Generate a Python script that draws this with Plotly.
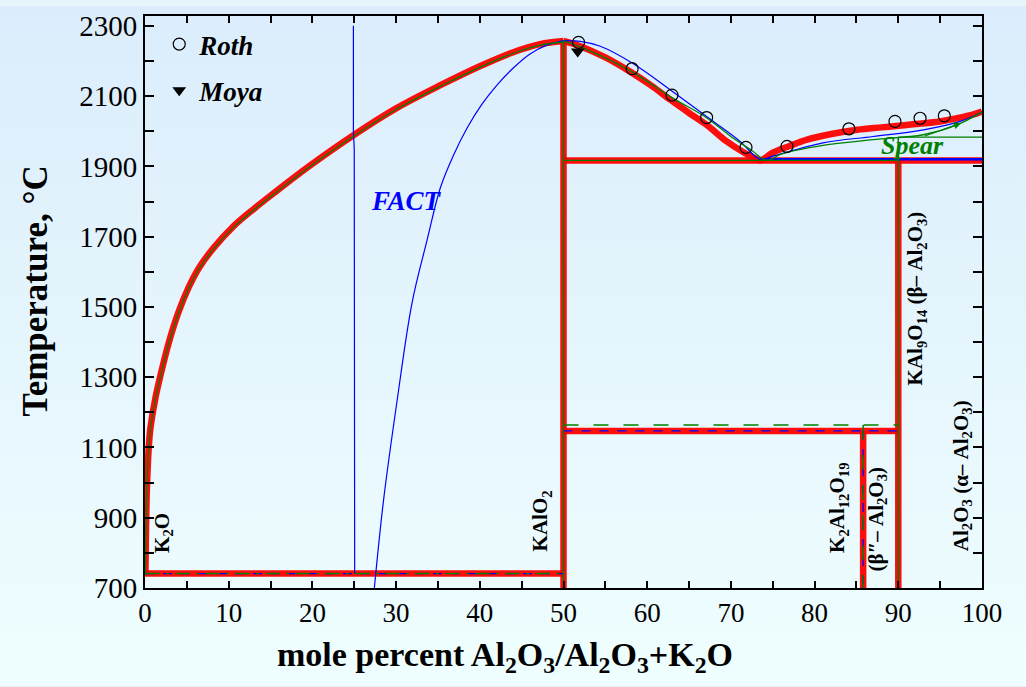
import base64
import plotly.graph_objects as go

# ---- phase-diagram data: x = mole % Al2O3, T = temperature (°C) ----
# liquidus, K2O side up to KAlO2 (assessed, red)
liq_left_x = [0.05, 0.25, 0.6, 1.2, 1.8, 2.8, 4.0, 5.2, 6.5, 8.2, 10.5, 13, 15.5, 19.7, 25, 30, 35.3, 40, 44, 47.2, 50]
liq_left_T = [741, 1000, 1145, 1235, 1300, 1395, 1485, 1555, 1613, 1668, 1728, 1779, 1826, 1902, 1990, 2065, 2131, 2185, 2225, 2248, 2257]

# liquidus, KAlO2 to Al2O3 (assessed, red)
liq_right_x = [50, 52, 55, 58, 60.5, 62.8, 65, 67.1, 69.5, 71.5, 72.7, 73.5, 75, 77, 79.1, 82, 85.1, 88, 91, 95, 97, 99, 100]
liq_right_T = [2257, 2242, 2210, 2169, 2130, 2089, 2052, 2018, 1971, 1940, 1925, 1917, 1939, 1958, 1976, 1992, 2004, 2011, 2018, 2028, 2037, 2048, 2056]

# FACT liquidus (blue)
fact_right_x = [50, 52, 54.4, 58.3, 63.1, 67.9, 71.1, 73.5, 75, 81, 87, 93, 97.4, 100]
fact_right_T = [2258, 2256, 2242, 2193, 2112, 2028, 1971, 1920, 1929, 1967, 1985, 2004, 2028, 2055]
fact_left_x = [27.4, 28.5, 30.1, 31.9, 33.7, 35.3, 36.9, 38.5, 40.2, 42, 44, 46, 48, 50]
fact_left_T = [700, 950, 1230, 1511, 1690, 1840, 1934, 2010, 2075, 2130, 2180, 2220, 2245, 2258]
fact_vert_x = [24.9, 24.9, 25.0, 25.05]
fact_vert_T = [2300, 2000, 1950, 741]

# Spear liquidus (green)
spear_right_x = [50, 52, 58, 63, 67, 70, 72.5, 74.3, 76, 81, 87, 93, 97, 100]
spear_right_T = [2257, 2240, 2172, 2095, 2040, 1985, 1945, 1917, 1935, 1960, 1976, 1990, 2018, 2055]
spear_line_x = [90, 100]
spear_line_T = [1983, 1983]
spear_ptr_x = [93.0, 97.5]
spear_ptr_T = [1985, 2023]

# invariant temperatures and compound compositions
T_eut_left = 741
T_eut_right = 1917
T_low = 1147
T_low_spear = 1164
T_peak = 2257
T_min = 700
x_K2O, x_KAlO2, x_K2Al12O19, x_KAl9O14, x_Al2O3 = 0, 50, 85.8, 90, 100
x_eut_right = 73.5

# experimental points
roth_x = [51.8, 58.2, 62.96, 67.1, 71.8, 76.7, 84.1, 89.6, 92.6, 95.5]
roth_T = [2253, 2178, 2103, 2039, 1954, 1957, 2007, 2028, 2037, 2044]
moya_x = [51.7]
moya_T = [2227]

# axis ticks
y_ticks = list(range(700, 2301, 200))
x_ticks = list(range(0, 101, 10))

RED = "rgba(255,0,0,0.95)"
GREEN = "#008000"
BLUE = "#0000ff"
SERIF = "Liberation Serif"

fig = go.Figure()


def line(xs, ys, color, width, dash="solid"):
    fig.add_trace(go.Scatter(x=xs, y=ys, mode="lines", showlegend=False, hoverinfo="skip",
                             line=dict(color=color, width=width, dash=dash, shape="spline", smoothing=1.0)))


def seg(xs, ys, color, width, dash="solid"):
    fig.add_trace(go.Scatter(x=xs, y=ys, mode="lines", showlegend=False, hoverinfo="skip",
                             line=dict(color=color, width=width, dash=dash)))


# thick red assessed diagram
W = 6.5
line(liq_left_x, liq_left_T, RED, W)
line(liq_right_x, liq_right_T, RED, W)
seg([x_K2O, x_KAlO2], [T_eut_left, T_eut_left], RED, W)
seg([x_KAlO2, x_KAlO2], [T_peak, T_min], RED, W)
seg([x_KAlO2, x_Al2O3], [T_eut_right, T_eut_right], RED, W)
seg([x_KAl9O14, x_KAl9O14], [T_eut_right, T_min], RED, W)
seg([x_KAlO2, x_KAl9O14], [T_low, T_low], RED, W)
seg([x_K2Al12O19, x_K2Al12O19], [T_low, T_min], RED, W)

# FACT (blue)
line(fact_right_x, fact_right_T, BLUE, 1.2)
line(fact_left_x, fact_left_T, BLUE, 1.2)
seg(fact_vert_x, fact_vert_T, BLUE, 1.2)
seg([x_eut_right, x_Al2O3], [T_eut_right + 3, T_eut_right + 3], BLUE, 2.5)
seg([x_KAlO2, x_KAl9O14], [T_low, T_low], BLUE, 1.3, "dash")
seg([x_K2Al12O19, x_K2Al12O19], [T_low, T_min], BLUE, 1.3, "dash")
seg([x_K2O, x_KAlO2], [T_eut_left, T_eut_left], BLUE, 1.3, "dash")

# Spear (green)
line(liq_left_x, [t - 3 for t in liq_left_T], GREEN, 1.3)
line(spear_right_x, spear_right_T, GREEN, 1.3)
seg([x_KAlO2, x_KAlO2], [T_peak, T_min], GREEN, 1.5)
seg([x_KAlO2, x_KAl9O14], [T_eut_right, T_eut_right], GREEN, 1.3)
seg([x_KAl9O14, x_KAl9O14], [spear_line_T[0], T_min], GREEN, 1.5)
seg(spear_line_x, spear_line_T, GREEN, 1.3)
seg([x_KAlO2, x_KAl9O14], [T_low_spear, T_low_spear], GREEN, 1.5, "longdash")
seg([x_K2Al12O19, x_K2Al12O19], [T_low_spear, T_min], GREEN, 1.5, "longdash")
seg([x_K2O, x_KAlO2], [T_eut_left, T_eut_left], GREEN, 1.5, "longdashdot")

fig.add_annotation(x=spear_ptr_x[1], y=spear_ptr_T[1], ax=spear_ptr_x[0], ay=spear_ptr_T[0],
                   axref="x", ayref="y", xref="x", yref="y", text="", showarrow=True,
                   arrowhead=2, arrowsize=1.2, arrowwidth=1.2, arrowcolor=GREEN)

# experimental points
fig.add_trace(go.Scatter(x=roth_x, y=roth_T, mode="markers", name="<b><i>Roth</i></b>",
                         marker=dict(symbol="circle-open", size=12, color="black", line=dict(width=1.2)),
                         legendgroup="a"))
fig.add_trace(go.Scatter(x=moya_x, y=moya_T, mode="markers", name="<b><i>Moya</i></b>",
                         marker=dict(symbol="triangle-down", size=12, color="black"),
                         legendgroup="b"))

# labels
fig.add_annotation(x=31.3, y=1801, text="<b><i>FACT</i></b>", showarrow=False,
                   font=dict(family=SERIF, size=27, color=BLUE))
fig.add_annotation(x=91.7, y=1959, text="<b><i>Spear</i></b>", showarrow=False,
                   font=dict(family=SERIF, size=26, color=GREEN))

compounds = [
    (2.2, 858, "K<sub>2</sub>O"),
    (47.3, 892, "KAlO<sub>2</sub>"),
    (82.8, 928, "K<sub>2</sub>Al<sub>12</sub>O<sub>19</sub>"),
    (87.4, 894, "(β″– Al<sub>2</sub>O<sub>3</sub>)"),
    (92.15, 1525, "KAl<sub>9</sub>O<sub>14</sub> (β– Al<sub>2</sub>O<sub>3</sub>)"),
    (97.6, 1021, "Al<sub>2</sub>O<sub>3</sub> (α– Al<sub>2</sub>O<sub>3</sub>)"),
]
for cx, cy, txt in compounds:
    fig.add_annotation(x=cx, y=cy, text="<b>" + txt + "</b>", showarrow=False, textangle=-90,
                       xanchor="center", yanchor="middle",
                       font=dict(family=SERIF, size=21, color="black"))

# axis titles
fig.add_annotation(xref="paper", yref="paper", x=0.4305, y=-0.121, xanchor="center", yanchor="middle",
                   text="<b>mole percent Al<sub>2</sub>O<sub>3</sub>/Al<sub>2</sub>O<sub>3</sub>+K<sub>2</sub>O</b>",
                   showarrow=False, font=dict(family=SERIF, size=34, color="black"))
fig.add_annotation(xref="paper", yref="paper", x=-0.131, y=0.519, xanchor="center", yanchor="middle",
                   textangle=-90, text="<b>Temperature, °C</b>", showarrow=False,
                   font=dict(family=SERIF, size=35, color="black"))

# soft vertical background gradient
svg = ('<svg xmlns="http://www.w3.org/2000/svg" width="1026" height="687" preserveAspectRatio="none">'
       '<defs><linearGradient id="g" x1="0" y1="0" x2="0" y2="1">'
       '<stop offset="0" stop-color="#dbedfc"/><stop offset="1" stop-color="#effefe"/>'
       '</linearGradient></defs><rect width="1026" height="687" fill="url(#g)"/></svg>')
bg = "data:image/svg+xml;base64," + base64.b64encode(svg.encode()).decode()
L, R, T, B = 145, 44, 10, 99
pw, ph = 1026 - L - R, 687 - T - B
fig.add_layout_image(source=bg, xref="paper", yref="paper", x=-L / pw, y=1 + T / ph,
                     sizex=1026 / pw, sizey=687 / ph, xanchor="left", yanchor="top",
                     sizing="stretch", layer="below")

axis_common = dict(showgrid=False, zeroline=False, showline=True, linecolor="black", linewidth=2,
                   mirror="allticks", ticks="inside", tickcolor="black", tickwidth=1.5)
fig.update_xaxes(range=[0, 100], tickvals=x_ticks, ticklen=7,
                 minor=dict(dtick=5, ticks="inside", ticklen=7, tickcolor="black", tickwidth=1.5),
                 tickfont=dict(family=SERIF, size=27, color="black"), **axis_common)
fig.update_yaxes(range=[700, 2328], tickvals=y_ticks, ticklen=9,
                 minor=dict(dtick=100, ticks="inside", ticklen=9, tickcolor="black", tickwidth=1.5),
                 tickfont=dict(family=SERIF, size=29, color="black"), **axis_common)

fig.update_layout(
    width=1026, height=687,
    margin=dict(l=L, r=R, t=T, b=B),
    paper_bgcolor="#e6f5fc", plot_bgcolor="rgba(0,0,0,0)",
    showlegend=True,
    legend=dict(x=0.017, y=0.993, xanchor="left", yanchor="top", bgcolor="rgba(0,0,0,0)",
                font=dict(family=SERIF, size=27, color="black"), traceorder="grouped",
                tracegroupgap=8, itemwidth=30),
)

fig.write_html("out.html")
